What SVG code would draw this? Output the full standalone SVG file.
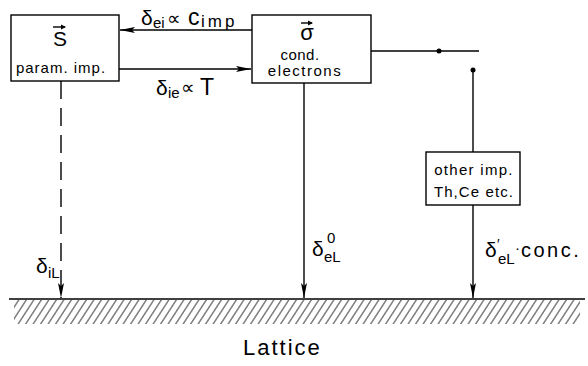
<svg xmlns="http://www.w3.org/2000/svg" width="588" height="366" viewBox="0 0 588 366">
<style>
text{font-family:"Liberation Sans","DejaVu Sans",sans-serif;fill:#000}
.box{fill:#fff;stroke:#000;stroke-width:1.4}
.ln{stroke:#000;stroke-width:1.4;fill:none}
.lbl{font-size:21px}
.sub{font-size:15px}
.small{font-size:15px;text-anchor:middle}
</style>
<defs>
<marker id="ah" markerUnits="userSpaceOnUse" markerWidth="16" markerHeight="8" refX="15" refY="4" orient="auto">
<path d="M0,1 L15,4 L0,7 L3,4 Z" fill="#000"/>
</marker>
<pattern id="hatch" patternUnits="userSpaceOnUse" width="7.5" height="25" patternTransform="translate(0,300) skewX(-33)">
<line x1="3.75" y1="0" x2="3.75" y2="25" stroke="#000" stroke-width="0.9"/>
</pattern>
</defs>

<g id="lattice">
<rect x="14" y="300" width="566" height="24" fill="url(#hatch)"/>
<line class="ln" x1="9" y1="299" x2="585" y2="299"/>
<text x="243" y="355" font-size="22" letter-spacing="2">Lattice</text>
</g>

<g id="connectors">
<line class="ln" x1="252" y1="30" x2="120" y2="30" marker-end="url(#ah)"/>
<line class="ln" x1="119" y1="69" x2="251" y2="69" marker-end="url(#ah)"/>
<line class="ln" x1="61" y1="81" x2="61" y2="298" stroke-dasharray="18 9" marker-end="url(#ah)"/>
<line class="ln" x1="304" y1="83" x2="304" y2="298" marker-end="url(#ah)"/>
<line class="ln" x1="371" y1="51" x2="479" y2="51"/>
<circle cx="439" cy="51" r="2.5" fill="#000"/>
<circle cx="473" cy="70" r="2.5" fill="#000"/>
<line class="ln" x1="473" y1="70" x2="473" y2="152"/>
<line class="ln" x1="473" y1="205" x2="473" y2="298" marker-end="url(#ah)"/>
<text class="lbl" x="141" y="25">δ<tspan class="sub" x="153" y="28">ei</tspan><tspan x="167" y="25" font-size="19">∝</tspan><tspan x="188" y="25" font-size="23">c</tspan><tspan x="201" y="27" font-size="17" letter-spacing="3">imp</tspan></text>
<text class="lbl" x="156" y="95">δ<tspan class="sub" x="168" y="98">ie</tspan><tspan x="181" y="94" font-size="19">∝</tspan><tspan x="200" y="95" font-size="23">T</tspan></text>
<text class="lbl" x="36" y="273">δ<tspan class="sub" x="48" y="278">iL</tspan></text>
<text class="lbl" x="312" y="256">δ<tspan class="sub" x="327" y="243" font-size="13">0</tspan><tspan class="sub" x="324" y="262">eL</tspan></text>
<text class="lbl" x="485" y="257">δ<tspan x="497" y="249" font-size="14">′</tspan><tspan class="sub" x="498" y="264">eL</tspan><tspan x="515" y="253" font-size="15">·</tspan><tspan x="521" y="257" font-size="20" letter-spacing="2.5">conc.</tspan></text>
</g>

<g id="node-S">
<rect class="box" x="11" y="15" width="108" height="66"/>
<text x="60" y="46" font-size="21" text-anchor="middle">S</text>
<line class="ln" x1="53" y1="27" x2="65" y2="27" stroke-width="1.2"/>
<path d="M61,24.5 L66,27 L61,29.5 Z" fill="#000"/>
<text class="small" x="61" y="73" letter-spacing="1">param. imp.</text>
</g>

<g id="node-sigma">
<rect class="box" x="252" y="15" width="119" height="68"/>
<text x="307" y="40" font-size="22" text-anchor="middle">σ</text>
<line class="ln" x1="301" y1="23" x2="312" y2="23" stroke-width="1.2"/>
<path d="M308,20.5 L313,23 L308,25.5 Z" fill="#000"/>
<text class="small" x="300" y="60" letter-spacing="0.5">cond.</text>
<text class="small" x="305" y="76" letter-spacing="1.5">electrons</text>
</g>

<g id="node-other">
<rect class="box" x="426" y="152" width="94" height="53"/>
<text class="small" x="474" y="175" letter-spacing="1.3">other imp.</text>
<text class="small" x="474" y="197" letter-spacing="1.1">Th,Ce etc.</text>
</g>
</svg>
